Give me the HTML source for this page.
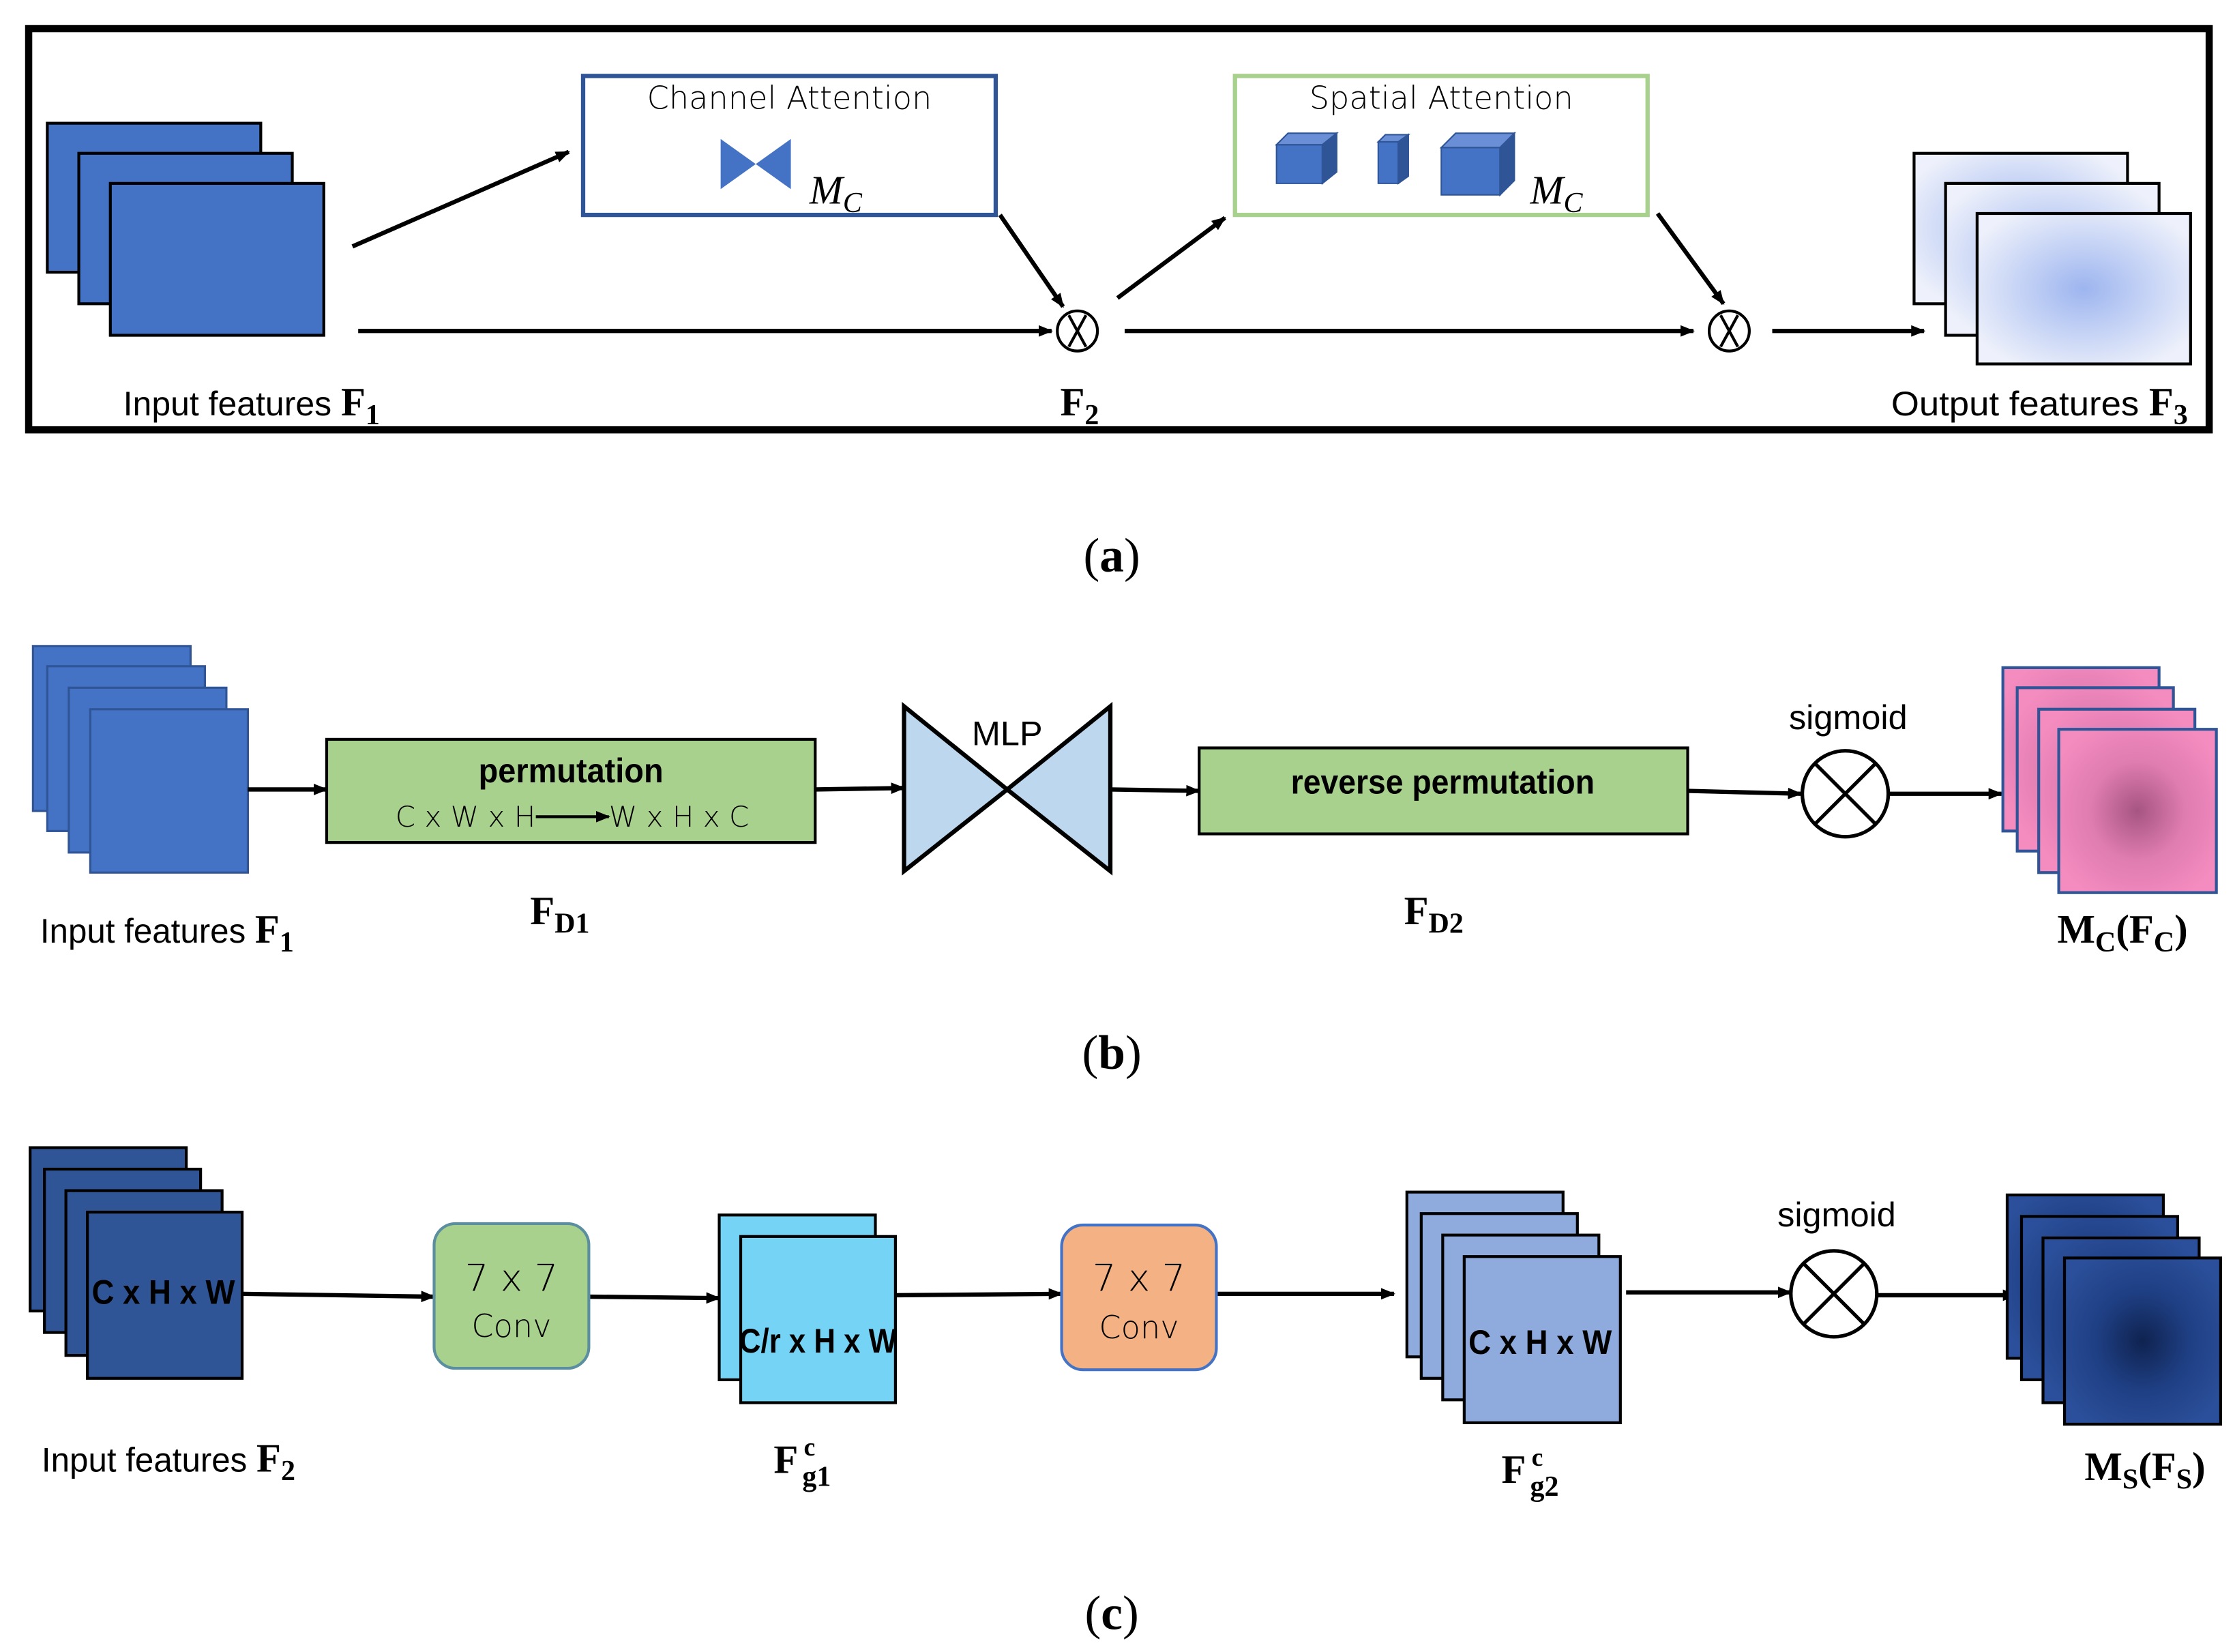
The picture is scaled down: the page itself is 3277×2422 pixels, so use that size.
<!DOCTYPE html>
<html><head><meta charset="utf-8"><style>
html,body{margin:0;padding:0;background:#fff;}
svg{display:block;}
.lab{font-family:"Liberation Sans Narrow","Liberation Sans",sans-serif;font-size:24px;fill:#000;}
.ser{font-family:"Liberation Serif",serif;font-weight:bold;fill:#000;}
.thin{font-family:"DejaVu Sans","Liberation Sans",sans-serif;font-weight:200;}
</style></head><body>
<svg width="3277" height="2422" viewBox="0 0 1560 1153" xmlns="http://www.w3.org/2000/svg">
<defs>
<marker id="ar" markerWidth="10" markerHeight="8" refX="9" refY="4" orient="auto" markerUnits="userSpaceOnUse"><path d="M0,0 L10,4 L0,8 Z" fill="#000"/></marker>
<radialGradient id="lb" cx="50%" cy="50%" r="60%"><stop offset="0" stop-color="#9db5ef"/><stop offset="1" stop-color="#eef1fb"/></radialGradient>
<radialGradient id="pk" cx="50%" cy="50%" r="60%"><stop offset="0" stop-color="#a65583"/><stop offset="0.5" stop-color="#df7cb0"/><stop offset="1" stop-color="#f58cc0"/></radialGradient>
<radialGradient id="db" cx="50%" cy="50%" r="60%"><stop offset="0" stop-color="#0f2350"/><stop offset="0.5" stop-color="#1f3f84"/><stop offset="1" stop-color="#2b4f9a"/></radialGradient>
</defs>
<rect width="1560" height="1153" fill="#fff"/>
<!-- (a) -->
<rect x="20" y="20" width="1522" height="280" fill="none" stroke="#000" stroke-width="5"/>
<g fill="#4472c4" stroke="#000" stroke-width="2">
<rect x="33" y="86" width="149" height="104"/><rect x="55" y="107" width="149" height="105"/><rect x="77" y="128" width="149" height="106"/></g>
<g stroke="#000" stroke-width="3" fill="none" marker-end="url(#ar)">
<line x1="246" y1="172" x2="397" y2="106"/>
<line x1="698" y1="150" x2="742" y2="214"/>
<line x1="250" y1="231" x2="734" y2="231"/>
<line x1="780" y1="208" x2="855" y2="152"/>
<line x1="1157" y1="149" x2="1203" y2="212"/>
<line x1="785" y1="231" x2="1182" y2="231"/>
<line x1="1237" y1="231" x2="1343" y2="231"/>
</g>
<rect x="407" y="53" width="288" height="97" fill="#fff" stroke="#2f5597" stroke-width="3"/>
<text x="551" y="76" text-anchor="middle" class="thin" font-size="22">Channel Attention</text>
<path d="M503,97 L552,132 L552,97 L503,132 Z" fill="#4472c4"/>
<text x="565" y="142" font-family="Liberation Serif,serif" font-style="italic" font-size="28">M<tspan font-size="20" dy="6">C</tspan></text>
<rect x="862" y="53" width="288" height="97" fill="#fff" stroke="#a9d18e" stroke-width="3"/>
<text x="1006" y="76" text-anchor="middle" class="thin" font-size="22">Spatial Attention</text>
<g fill="#4472c4" stroke="#2f5597" stroke-width="1">
<path d="M891,101 L923,101 L923,128 L891,128 Z"/><path d="M891,101 L899,93 L933,93 L923,101 Z" fill="#6a8fd6"/><path d="M923,101 L933,93 L933,120 L923,128 Z" fill="#2f5597"/>
<path d="M962,99 L976,99 L976,128 L962,128 Z"/><path d="M962,99 L967,94 L983,94 L976,99 Z" fill="#6a8fd6"/><path d="M976,99 L983,94 L983,123 L976,128 Z" fill="#2f5597"/>
<path d="M1006,103 L1047,103 L1047,136 L1006,136 Z"/><path d="M1006,103 L1016,93 L1057,93 L1047,103 Z" fill="#6a8fd6"/><path d="M1047,103 L1057,93 L1057,126 L1047,136 Z" fill="#2f5597"/>
</g>
<text x="1068" y="142" font-family="Liberation Serif,serif" font-style="italic" font-size="28">M<tspan font-size="20" dy="6">C</tspan></text>
<g fill="#fff" stroke="#000" stroke-width="2">
<circle cx="752" cy="231" r="14"/><line x1="746" y1="220" x2="758" y2="242"/><line x1="758" y1="220" x2="746" y2="242"/>
<circle cx="1207" cy="231" r="14"/><line x1="1201" y1="220" x2="1213" y2="242"/><line x1="1213" y1="220" x2="1201" y2="242"/>
</g>
<g fill="url(#lb)" stroke="#000" stroke-width="2">
<rect x="1336" y="107" width="149" height="105"/><rect x="1358" y="128" width="149" height="106"/><rect x="1380" y="149" width="149" height="105"/></g>
<text x="86" y="290" class="lab"><tspan textLength="152" lengthAdjust="spacingAndGlyphs">Input features </tspan><tspan class="ser" font-size="28">F</tspan><tspan class="ser" font-size="20" dy="6">1</tspan></text>
<text x="740" y="290" class="ser" font-size="28">F<tspan font-size="20" dy="6">2</tspan></text>
<text x="1320" y="290" class="lab"><tspan textLength="180" lengthAdjust="spacingAndGlyphs">Output features </tspan><tspan class="ser" font-size="28">F</tspan><tspan class="ser" font-size="20" dy="6">3</tspan></text>
<text x="776" y="399" text-anchor="middle" font-family="Liberation Serif,serif" font-size="34">(<tspan font-weight="bold">a</tspan>)</text>
<!-- (b) -->
<g fill="#4472c4" stroke="#2f5597" stroke-width="1.5">
<rect x="23" y="451" width="110" height="115"/><rect x="33" y="465" width="110" height="115"/><rect x="48" y="480" width="110" height="115"/><rect x="63" y="495" width="110" height="114"/></g>
<g stroke="#000" stroke-width="3" fill="none" marker-end="url(#ar)">
<line x1="173" y1="551" x2="228" y2="551"/>
<line x1="569" y1="551" x2="631" y2="550"/>
<line x1="775" y1="551" x2="837" y2="552"/>
<line x1="1178" y1="552" x2="1257" y2="554"/>
<line x1="1318" y1="554" x2="1397" y2="554"/>
</g>
<rect x="228" y="516" width="341" height="72" fill="#a9d18e" stroke="#000" stroke-width="2"/>
<text x="334" y="546" class="lab" font-weight="bold" font-size="22" textLength="129" lengthAdjust="spacingAndGlyphs">permutation</text>
<text x="276" y="577" class="thin" font-size="20">C x W x H</text>
<line x1="374" y1="570" x2="425" y2="570" stroke="#000" stroke-width="2" marker-end="url(#ar)"/>
<text x="425" y="577" class="thin" font-size="20">W x H x C</text>
<path d="M631,493 L703,551 L631,608 Z M775,493 L703,551 L775,608 Z" fill="#bdd7ee" stroke="#000" stroke-width="3" stroke-linejoin="miter"/>
<text x="703" y="520" text-anchor="middle" class="lab" font-size="22">MLP</text>
<rect x="837" y="522" width="341" height="60" fill="#a9d18e" stroke="#000" stroke-width="2"/>
<text x="901" y="554" class="lab" font-weight="bold" font-size="22" textLength="212" lengthAdjust="spacingAndGlyphs">reverse permutation</text>
<g fill="#fff" stroke="#000" stroke-width="2.5">
<circle cx="1288" cy="554" r="30"/><line x1="1267" y1="533" x2="1309" y2="575"/><line x1="1309" y1="533" x2="1267" y2="575"/>
<circle cx="1280" cy="903" r="30"/><line x1="1259" y1="882" x2="1301" y2="924"/><line x1="1301" y1="882" x2="1259" y2="924"/>
</g>
<text x="1290" y="509" text-anchor="middle" class="lab" font-size="22">sigmoid</text>
<g fill="url(#pk)" stroke="#2f5597" stroke-width="2">
<rect x="1398" y="466" width="109" height="114"/><rect x="1408" y="480" width="109" height="114"/><rect x="1423" y="495" width="109" height="114"/><rect x="1437" y="509" width="110" height="114"/></g>
<text x="28" y="658" class="lab"><tspan textLength="150" lengthAdjust="spacingAndGlyphs">Input features </tspan><tspan class="ser" font-size="28">F</tspan><tspan class="ser" font-size="20" dy="6">1</tspan></text>
<text x="370" y="645" class="ser" font-size="28">F<tspan font-size="20" dy="6">D1</tspan></text>
<text x="980" y="645" class="ser" font-size="28">F<tspan font-size="20" dy="6">D2</tspan></text>
<text x="1436" y="658" class="ser" font-size="28">M<tspan font-size="20" dy="6">C</tspan><tspan dy="-6">(F</tspan><tspan font-size="20" dy="6">C</tspan><tspan dy="-6">)</tspan></text>
<text x="776" y="746" text-anchor="middle" font-family="Liberation Serif,serif" font-size="34">(<tspan font-weight="bold">b</tspan>)</text>
<!-- (c) -->
<g fill="#2f5597" stroke="#000" stroke-width="2">
<rect x="21" y="801" width="109" height="114"/><rect x="31" y="816" width="109" height="114"/><rect x="46" y="831" width="109" height="115"/><rect x="61" y="846" width="108" height="116"/></g>
<text x="64" y="910" class="lab" font-weight="bold" font-size="20" textLength="100" lengthAdjust="spacingAndGlyphs">C x H x W</text>
<g stroke="#000" stroke-width="3" fill="none" marker-end="url(#ar)">
<line x1="169" y1="903" x2="303" y2="905"/>
<line x1="411" y1="905" x2="502" y2="906"/>
<line x1="625" y1="904" x2="741" y2="903"/>
<line x1="849" y1="903" x2="973" y2="903"/>
<line x1="1135" y1="902" x2="1250" y2="902"/>
<line x1="1310" y1="904" x2="1407" y2="904"/>
</g>
<rect x="303" y="854" width="108" height="101" rx="15" fill="#a9d18e" stroke="#5b8fa0" stroke-width="2"/>
<text x="357" y="901" text-anchor="middle" class="thin" font-size="26">7 x 7</text>
<text x="357" y="933" text-anchor="middle" class="thin" font-size="22">Conv</text>
<g fill="#75d4f5" stroke="#000" stroke-width="2">
<rect x="502" y="848" width="109" height="115"/><rect x="517" y="863" width="108" height="116"/></g>
<text x="516" y="944" class="lab" font-weight="bold" font-size="19" textLength="110" lengthAdjust="spacingAndGlyphs">C/r x H x W</text>
<rect x="741" y="855" width="108" height="101" rx="15" fill="#f4b183" stroke="#4472c4" stroke-width="2"/>
<text x="795" y="901" text-anchor="middle" class="thin" font-size="26">7 x 7</text>
<text x="795" y="934" text-anchor="middle" class="thin" font-size="22">Conv</text>
<g fill="#8faadc" stroke="#000" stroke-width="2">
<rect x="982" y="832" width="109" height="115"/><rect x="992" y="847" width="109" height="115"/><rect x="1007" y="862" width="109" height="115"/><rect x="1022" y="877" width="109" height="116"/></g>
<text x="1025" y="945" class="lab" font-weight="bold" font-size="20" textLength="100" lengthAdjust="spacingAndGlyphs">C x H x W</text>
<text x="1282" y="856" text-anchor="middle" class="lab" font-size="22">sigmoid</text>
<g fill="url(#db)" stroke="#000" stroke-width="2">
<rect x="1401" y="834" width="109" height="114"/><rect x="1411" y="849" width="109" height="114"/><rect x="1426" y="864" width="109" height="115"/><rect x="1441" y="878" width="109" height="116"/></g>
<text x="29" y="1027" class="lab"><tspan textLength="150" lengthAdjust="spacingAndGlyphs">Input features </tspan><tspan class="ser" font-size="28">F</tspan><tspan class="ser" font-size="20" dy="6">2</tspan></text>
<text x="540" y="1028" class="ser" font-size="28">F</text>
<text x="561" y="1016" class="ser" font-size="18">c</text>
<text x="560" y="1037" class="ser" font-size="20">g1</text>
<text x="1048" y="1035" class="ser" font-size="28">F</text>
<text x="1069" y="1023" class="ser" font-size="18">c</text>
<text x="1068" y="1044" class="ser" font-size="20">g2</text>
<text x="1455" y="1033" class="ser" font-size="28">M<tspan font-size="20" dy="6">S</tspan><tspan dy="-6">(F</tspan><tspan font-size="20" dy="6">S</tspan><tspan dy="-6">)</tspan></text>
<text x="776" y="1137" text-anchor="middle" font-family="Liberation Serif,serif" font-size="34">(<tspan font-weight="bold">c</tspan>)</text>
</svg>
</body></html>
